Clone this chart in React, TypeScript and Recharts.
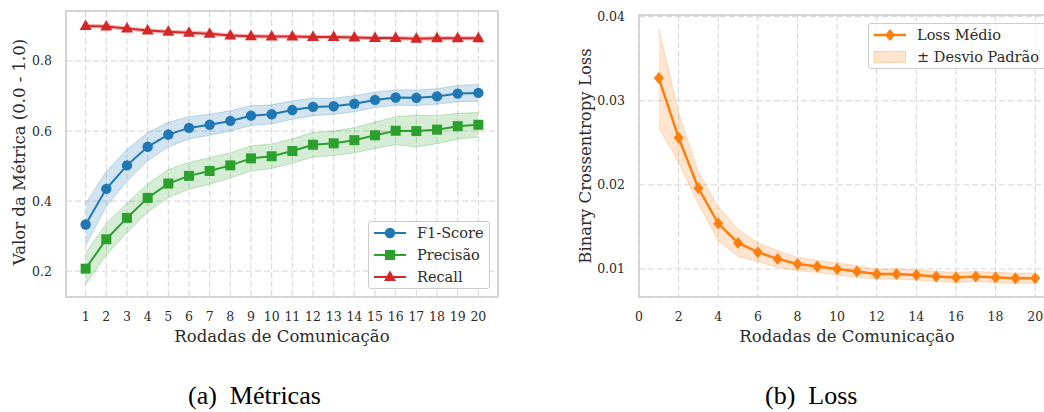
import React from "react";
import {
  ComposedChart,
  Line,
  Area,
  XAxis,
  YAxis,
  CartesianGrid,
  ReferenceArea,
} from "recharts";

const rounds = [1, 2, 3, 4, 5, 6, 7, 8, 9, 10, 11, 12, 13, 14, 15, 16, 17, 18, 19, 20];
const f1Mean = [0.333, 0.435, 0.502, 0.555, 0.59, 0.609, 0.618, 0.629, 0.644, 0.648, 0.66, 0.669, 0.671, 0.678, 0.689, 0.696, 0.695, 0.699, 0.707, 0.709];
const f1Std = [0.06, 0.05, 0.045, 0.04, 0.035, 0.032, 0.03, 0.029, 0.028, 0.027, 0.026, 0.025, 0.023, 0.023, 0.022, 0.022, 0.022, 0.022, 0.023, 0.024];
const precMean = [0.207, 0.291, 0.352, 0.409, 0.45, 0.472, 0.486, 0.502, 0.522, 0.528, 0.543, 0.561, 0.565, 0.574, 0.588, 0.601, 0.6, 0.604, 0.614, 0.618];
const precStd = [0.045, 0.045, 0.042, 0.04, 0.04, 0.038, 0.038, 0.036, 0.036, 0.035, 0.035, 0.035, 0.035, 0.036, 0.038, 0.04, 0.045, 0.04, 0.037, 0.035];
const recallMean = [0.9, 0.899, 0.893, 0.887, 0.884, 0.881, 0.878, 0.873, 0.871, 0.87, 0.87, 0.869, 0.869, 0.867, 0.866, 0.866, 0.864, 0.865, 0.865, 0.865];
const recallStd = [0.005, 0.005, 0.005, 0.005, 0.005, 0.005, 0.005, 0.005, 0.005, 0.005, 0.005, 0.005, 0.005, 0.005, 0.005, 0.005, 0.005, 0.005, 0.005, 0.005];
const lossMean = [0.0327, 0.0256, 0.0196, 0.0154, 0.0131, 0.012, 0.0112, 0.0106, 0.0103, 0.01, 0.0097, 0.0094, 0.0094, 0.0093, 0.0091, 0.009, 0.0091, 0.009, 0.0089, 0.0089];
const lossStd = [0.0059, 0.0029, 0.0019, 0.002, 0.0016, 0.0011, 0.001, 0.0008, 0.0007, 0.0007, 0.0007, 0.0006, 0.0006, 0.0006, 0.0006, 0.0006, 0.0006, 0.0006, 0.0006, 0.0006];

const metricTicks = [0.2, 0.4, 0.6, 0.8];
const lossTicks = [0.01, 0.02, 0.03, 0.04];
const lossXTicks = [0, 2, 4, 6, 8, 10, 12, 14, 16, 18, 20];

const metricsData = rounds.map((r, i) => ({
  round: r,
  f1: f1Mean[i],
  f1Band: [f1Mean[i] - f1Std[i], f1Mean[i] + f1Std[i]],
  prec: precMean[i],
  precBand: [precMean[i] - precStd[i], precMean[i] + precStd[i]],
  recall: recallMean[i],
  recallBand: [recallMean[i] - recallStd[i], recallMean[i] + recallStd[i]],
}));

const lossData = rounds.map((r, i) => ({
  round: r,
  loss: lossMean[i],
  lossBand: [lossMean[i] - lossStd[i], lossMean[i] + lossStd[i]],
}));

const BLUE = "#1f77b4";
const GREEN = "#2ca02c";
const RED = "#d62728";
const ORANGE = "#ff7f0e";
const FONT = "'DejaVu Serif', serif";
const TXT = "#2b2b2b";
const GRID = "#d6d6d6";
const BORDER = "#cccccc";

const tickStyle = { fontSize: 12.5, fill: TXT, fontFamily: FONT };

const CircleDot = (p: any) =>
  p.cx == null ? null : <circle key={`c${p.index}`} cx={p.cx} cy={p.cy} r={5.2} fill={BLUE} />;
const SquareDot = (p: any) =>
  p.cx == null ? null : <rect key={`s${p.index}`} x={p.cx - 5} y={p.cy - 5} width={10} height={10} fill={GREEN} />;
const TriDot = (p: any) =>
  p.cx == null ? null : (
    <polygon key={`t${p.index}`} points={`${p.cx},${p.cy - 6.5} ${p.cx + 6},${p.cy + 4} ${p.cx - 6},${p.cy + 4}`} fill={RED} />
  );
const DiamondDot = (p: any) =>
  p.cx == null ? null : (
    <polygon key={`d${p.index}`} points={`${p.cx},${p.cy - 6} ${p.cx + 5},${p.cy} ${p.cx},${p.cy + 6} ${p.cx - 5},${p.cy}`} fill={ORANGE} />
  );

const yLabel = (text: string, x: number, y: number) => ({
  content: () => (
    <text
      x={x}
      y={y}
      transform={`rotate(-90 ${x} ${y})`}
      textAnchor="middle"
      dominantBaseline="central"
      fontFamily={FONT}
      fontSize={16.5}
      fill={TXT}
    >
      {text}
    </text>
  ),
});

const xLabel = (text: string, x: number, y: number) => ({
  content: () => (
    <text x={x} y={y} textAnchor="middle" dominantBaseline="central" fontFamily={FONT} fontSize={16.5} fill={TXT}>
      {text}
    </text>
  ),
});

const legendRow = (kind: string, color: string, label: string, top: number) => (
  <div key={label} style={{ position: "absolute", left: 0, top, height: 20, width: "100%" }}>
    <svg width={44} height={20} style={{ position: "absolute", left: 0, top: 0 }}>
      {kind === "patch" ? (
        <rect x={5.5} y={4.5} width={31} height={11} fill={color} fillOpacity={0.2} stroke={color} strokeOpacity={0.3} />
      ) : (
        <line x1={5} y1={10} x2={37} y2={10} stroke={color} strokeWidth={kind === "diamond" ? 2.5 : 2} />
      )}
      {kind === "circle" && <circle cx={21} cy={10} r={5.2} fill={color} />}
      {kind === "square" && <rect x={16} y={5} width={10} height={10} fill={color} />}
      {kind === "tri" && <polygon points="21,3.5 27,14 15,14" fill={color} />}
      {kind === "diamond" && <polygon points="21,4 26,10 21,16 16,10" fill={color} />}
    </svg>
    <span
      style={{
        position: "absolute",
        left: 48,
        top: 0,
        lineHeight: "20px",
        fontFamily: FONT,
        fontSize: 14.5,
        color: TXT,
        whiteSpace: "nowrap",
      }}
    >
      {label}
    </span>
  </div>
);

export default function App() {
  return (
    <div
      style={{
        position: "absolute",
        left: 0,
        top: 0,
        width: 1044,
        height: 412,
        overflow: "hidden",
        background: "#ffffff",
      }}
    >
      {/* Left chart: metrics */}
      <div style={{ position: "absolute", left: 0, top: 0 }}>
        <ComposedChart width={520} height={360} data={metricsData} margin={{ top: 11, right: 22, left: 0, bottom: 0 }}>
          <CartesianGrid stroke={GRID} strokeDasharray="6 3" strokeWidth={1} />
          <XAxis
            type="number"
            dataKey="round"
            domain={[0.05, 20.95]}
            ticks={rounds}
            interval={0}
            allowDataOverflow
            axisLine={false}
            tickLine={false}
            tick={tickStyle}
            tickMargin={9}
            height={63}
            label={xLabel("Rodadas de Comunicação", 282, 336)}
          />
          <YAxis
            type="number"
            domain={[0.126, 0.943]}
            ticks={metricTicks}
            allowDataOverflow
            axisLine={false}
            tickLine={false}
            tick={tickStyle}
            tickMargin={8}
            width={66}
            tickFormatter={(v: number) => v.toFixed(1)}
            label={yLabel("Valor da Métrica (0.0 - 1.0)", 19, 152)}
          />
          <Area type="linear" dataKey="f1Band" stroke={BLUE} strokeOpacity={0.25} fill={BLUE} fillOpacity={0.2} isAnimationActive={false} activeDot={false} />
          <Area type="linear" dataKey="precBand" stroke={GREEN} strokeOpacity={0.25} fill={GREEN} fillOpacity={0.2} isAnimationActive={false} activeDot={false} />
          <Area type="linear" dataKey="recallBand" stroke={RED} strokeOpacity={0.25} fill={RED} fillOpacity={0.2} isAnimationActive={false} activeDot={false} />
          <Line type="linear" dataKey="f1" stroke={BLUE} strokeWidth={2} dot={CircleDot} activeDot={false} isAnimationActive={false} />
          <Line type="linear" dataKey="prec" stroke={GREEN} strokeWidth={2} dot={SquareDot} activeDot={false} isAnimationActive={false} />
          <Line type="linear" dataKey="recall" stroke={RED} strokeWidth={2} dot={TriDot} activeDot={false} isAnimationActive={false} />
          <ReferenceArea x1={0.05} x2={20.95} y1={0.126} y2={0.943} fill="none" stroke={BORDER} strokeWidth={1.5} ifOverflow="visible" />
        </ComposedChart>
      </div>

      {/* Left legend */}
      <div
        style={{
          position: "absolute",
          left: 368,
          top: 221,
          width: 122,
          height: 68,
          background: "rgba(255,255,255,0.85)",
          border: `1px solid ${BORDER}`,
          borderRadius: 3,
          boxSizing: "border-box",
        }}
      >
        {legendRow("circle", BLUE, "F1-Score", 1)}
        {legendRow("square", GREEN, "Precisão", 23)}
        {legendRow("tri", RED, "Recall", 45)}
      </div>

      {/* Right chart: loss */}
      <div style={{ position: "absolute", left: 520, top: 0 }}>
        <ComposedChart width={540} height={360} data={lossData} margin={{ top: 15, right: 5, left: 0, bottom: 0 }}>
          <CartesianGrid stroke={GRID} strokeDasharray="6 3" strokeWidth={1} />
          <XAxis
            type="number"
            dataKey="round"
            domain={[0, 21]}
            ticks={lossXTicks}
            interval={0}
            allowDataOverflow
            axisLine={false}
            tickLine={false}
            tick={tickStyle}
            tickMargin={9}
            height={63}
            label={xLabel("Rodadas de Comunicação", 327, 336)}
          />
          <YAxis
            type="number"
            domain={[0.00667, 0.0402]}
            ticks={lossTicks}
            allowDataOverflow
            axisLine={false}
            tickLine={false}
            tick={tickStyle}
            tickMargin={8}
            width={119}
            tickFormatter={(v: number) => v.toFixed(2)}
            label={yLabel("Binary Crossentropy Loss", 65, 156)}
          />
          <Area type="linear" dataKey="lossBand" stroke={ORANGE} strokeOpacity={0.25} fill={ORANGE} fillOpacity={0.2} isAnimationActive={false} activeDot={false} />
          <Line type="linear" dataKey="loss" stroke={ORANGE} strokeWidth={2.5} dot={DiamondDot} activeDot={false} isAnimationActive={false} />
          <ReferenceArea x1={0} x2={21} y1={0.00667} y2={0.0402} fill="none" stroke={BORDER} strokeWidth={1.5} ifOverflow="visible" />
        </ComposedChart>
      </div>

      {/* Right legend */}
      <div
        style={{
          position: "absolute",
          left: 868,
          top: 23,
          width: 182,
          height: 46,
          background: "rgba(255,255,255,0.85)",
          border: `1px solid ${BORDER}`,
          borderRadius: 3,
          boxSizing: "border-box",
        }}
      >
        {legendRow("diamond", ORANGE, "Loss Médio", 1)}
        {legendRow("patch", ORANGE, "± Desvio Padrão", 23)}
      </div>

      {/* Captions */}
      <div
        style={{
          position: "absolute",
          left: 188,
          top: 380,
          fontFamily: "'Liberation Serif', serif",
          fontSize: 26,
          lineHeight: "32px",
          color: "#000",
          whiteSpace: "pre",
        }}
      >
        {"(a)  Métricas"}
      </div>
      <div
        style={{
          position: "absolute",
          left: 765,
          top: 380,
          fontFamily: "'Liberation Serif', serif",
          fontSize: 26,
          lineHeight: "32px",
          color: "#000",
          whiteSpace: "pre",
        }}
      >
        {"(b)  Loss"}
      </div>
    </div>
  );
}
